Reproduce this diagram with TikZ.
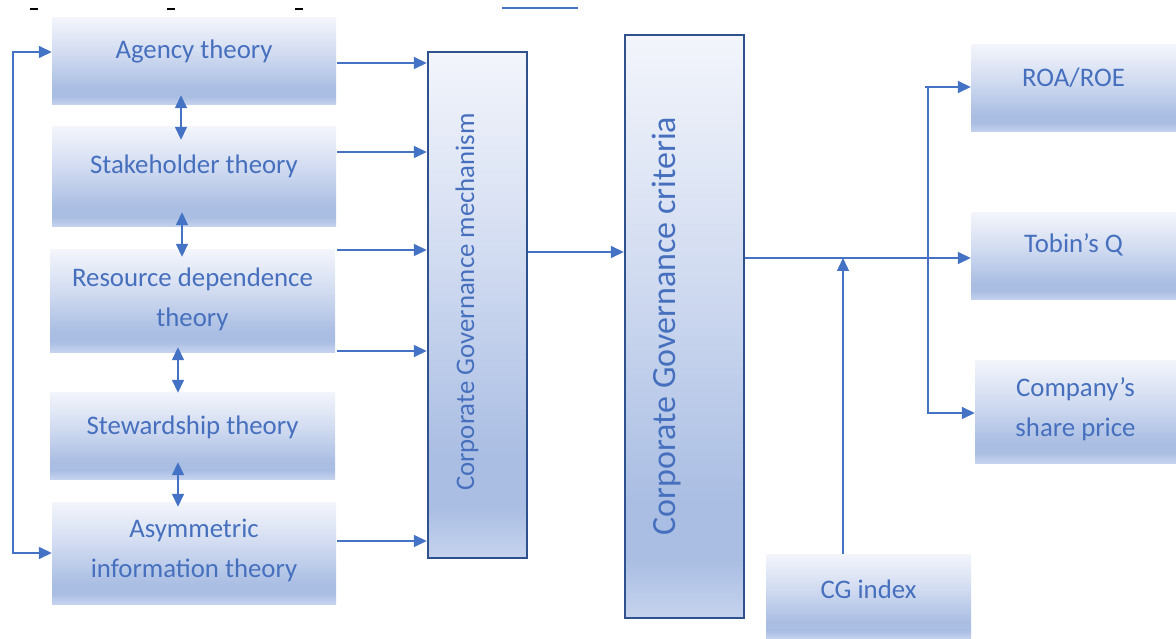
\documentclass[tikz,border=0pt]{standalone}
\usepackage{fontspec}
\setmainfont{Carlito}
\usetikzlibrary{arrows.meta,calc}
\definecolor{ln}{HTML}{4472C4}
\definecolor{tx}{HTML}{4670BE}
\definecolor{bd}{HTML}{2F528F}
\definecolor{gtop}{HTML}{F3F5FB}
\definecolor{gmid}{HTML}{D2DCF1}
\definecolor{gdark}{HTML}{AABEE3}
\definecolor{gbot}{HTML}{C6D3EE}
\pgfdeclareverticalshading{boxgrad}{100bp}{color(0bp)=(gbot); color(25bp)=(gbot); color(30bp)=(gdark); color(35bp)=(gdark); color(55bp)=(gmid); color(75bp)=(gtop); color(100bp)=(gtop)}
\tikzset{
  gbox/.style={rectangle, shading=boxgrad, inner sep=0pt},
  fbox/.style={rectangle, shading=boxgrad, draw=bd, line width=2.4pt, inner sep=0pt},
  lbl/.style={text=tx, font=\fontsize{26.8}{40}\selectfont, align=center, inner sep=0pt},
  conn/.style={draw=ln, line width=1.5pt},
  arr/.style={conn, -{Triangle[length=13pt,width=12pt]}},
  dblarr/.style={conn, {Triangle[length=13pt,width=12pt]}-{Triangle[length=13pt,width=12pt]}}
}
\begin{document}
\begin{tikzpicture}[x=1pt,y=-1pt]
\useasboundingbox (0,0) rectangle (1176,639);
% top fragments
\draw[line width=2pt] (30,9) -- (38,9);
\draw[line width=2pt] (167,9) -- (175,9);
\draw[line width=2pt] (295,9) -- (303,9);
\draw[ln, line width=1.5pt] (502,8) -- (578,8);
% left boxes
\node[gbox, minimum width=284pt, minimum height=87pt] (agency) at (194,61.5) {};
\node[gbox, minimum width=284pt, minimum height=100pt] (stake) at (194,177) {};
\node[gbox, minimum width=285pt, minimum height=102pt] (resource) at (192.5,301) {};
\node[gbox, minimum width=285pt, minimum height=87pt] (steward) at (192.5,435.5) {};
\node[gbox, minimum width=284pt, minimum height=102pt] (asym) at (194,553) {};
\node[lbl] (agency-t) at (194,52) {Agency theory};
\node[lbl] (stake-t) at (194,166) {Stakeholder theory};
\node[lbl] (resource-t) at (192.5,299) {Resource dependence\\theory};
\node[lbl] (steward-t) at (192.5,427) {Stewardship theory};
\node[lbl] (asym-t) at (194,550) {Asymmetric\\information theory};
% central boxes
\node[fbox, minimum width=99pt, minimum height=506pt] (mech) at (477.5,305) {};
\node[lbl, rotate=90] (mech-t) at (467,302) {Corporate Governance mechanism};
\node[fbox, minimum width=119pt, minimum height=583pt] (crit) at (684.5,326.5) {};
\node[lbl, rotate=90, font=\fontsize{34}{40}\selectfont] (crit-t) at (667,326) {Corporate Governance criteria};
% right boxes
\node[gbox, minimum width=205pt, minimum height=87pt] (roa) at (1073.5,88.5) {};
\node[gbox, minimum width=205pt, minimum height=87pt] (tobin) at (1073.5,256.5) {};
\node[gbox, minimum width=201pt, minimum height=103pt] (comp) at (1075.5,411.5) {};
\node[gbox, minimum width=205pt, minimum height=85pt] (cg) at (868.5,596.5) {};
\node[lbl] (roa-t) at (1073.5,78) {ROA/ROE};
\node[lbl] (tobin-t) at (1073.5,245) {Tobin’s Q};
\node[lbl] (comp-t) at (1075.5,409) {Company’s\\share price};
\node[lbl] (cg-t) at (868.5,589) {CG index};
% vertical double arrows
\draw[dblarr] ([xshift=-13pt,yshift=10pt]agency.south) -- ([xshift=-13pt,yshift=-13pt]stake.north);
\draw[dblarr] ([xshift=-12pt,yshift=15pt]stake.south) -- ([xshift=-10.5pt,yshift=-7pt]resource.north);
\draw[dblarr] ([xshift=-14.5pt,yshift=5pt]resource.south) -- ([xshift=-14.5pt,yshift=-1pt]steward.north);
\draw[dblarr] ([xshift=-14.5pt,yshift=17pt]steward.south) -- ([xshift=-16pt,yshift=-5pt]asym.north);
% feedback loop
\coordinate (fb) at (13,52);
\draw[dblarr] ([yshift=9.5pt]agency.west) -| (fb |- asym.west) -- (asym.west);
% into mechanism
\coordinate (a1) at ([xshift=1pt,yshift=-1.5pt]agency.east);
\draw[arr] (a1) -- (a1 -| mech.west);
\coordinate (a2) at ([xshift=1pt,yshift=25pt]stake.east);
\draw[arr] (a2) -- (a2 -| mech.west);
\coordinate (a3) at ([xshift=2pt,yshift=51pt]resource.east);
\draw[arr] (a3) -- (a3 -| mech.west);
\coordinate (a4) at ([xshift=2pt,yshift=84.5pt]steward.east);
\draw[arr] (a4) -- (a4 -| mech.west);
\coordinate (a5) at ([xshift=1pt,yshift=12pt]asym.east);
\draw[arr] (a5) -- (a5 -| mech.west);
% mechanism -> criteria
\coordinate (m1) at ([yshift=53pt]mech.east);
\draw[arr] (m1) -- (m1 -| crit.west);
% criteria -> outcomes
\coordinate (c1) at ([yshift=68.5pt]crit.east);
\draw[arr] (c1) -- (c1 -| tobin.west);
\coordinate (j1) at (928,87);
\coordinate (j2) at (928,413);
\draw[arr] ([xshift=-3pt]j1) -- (j1 -| roa.west);
\draw[arr] (j1) -- (j2) -- (j2 -| comp.west);
% CG index
\coordinate (cgin) at (843,258);
\draw[arr] (cgin |- cg.north) -- (cgin);
\end{tikzpicture}
\end{document}
